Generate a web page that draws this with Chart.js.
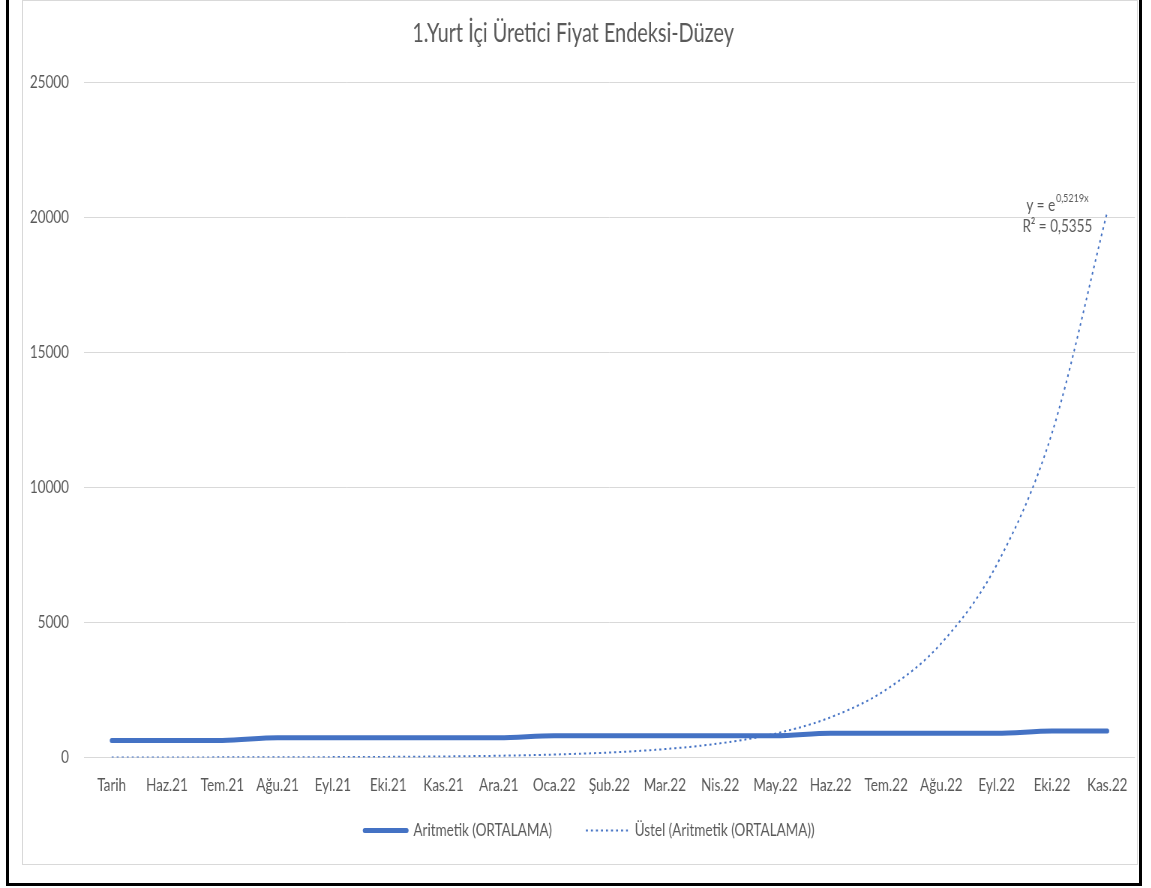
<!DOCTYPE html>
<html lang="tr">
<head>
<meta charset="utf-8">
<title>1.Yurt İçi Üretici Fiyat Endeksi-Düzey</title>
<script src="https://cdn.jsdelivr.net/npm/chart.js@4/dist/chart.umd.min.js"></script>
<style>
  html, body { margin: 0; padding: 0; background: #ffffff; overflow: hidden; }
  body { width: 1151px; height: 888px; position: relative; }
  /* the chart is drawn on a wider canvas and squeezed horizontally,
     which gives the tall, narrow lettering of the original sheet */
  #wrap {
    position: absolute; left: 0; top: 0;
    width: 1535px; height: 888px;
    transform: scaleX(0.75); transform-origin: 0 0;
  }
  #outer {
    position: absolute; left: 6px; top: -3px; width: 1136px; height: 889px;
    border: 3px solid #000; box-sizing: border-box; pointer-events: none;
  }
  #inner {
    position: absolute; left: 22px; top: 0; width: 1116px; height: 865px;
    border: 1px solid #d9d9d9; box-sizing: border-box; pointer-events: none;
  }
</style>
</head>
<body>
<div id="wrap"><canvas id="chart"></canvas></div>
<div id="inner"></div>
<div id="outer"></div>
<script>
// Months on the category axis
const categories = ['Tarih', 'Haz.21', 'Tem.21', 'Ağu.21', 'Eyl.21', 'Eki.21', 'Kas.21', 'Ara.21',
  'Oca.22', 'Şub.22', 'Mar.22', 'Nis.22', 'May.22', 'Haz.22', 'Tem.22', 'Ağu.22', 'Eyl.22',
  'Eki.22', 'Kas.22'];

// Arithmetic mean of the index level
const aritmetikValues = [630, 630, 630, 733, 733, 733, 733, 733, 806, 806, 806, 806, 806,
  895, 895, 895, 895, 980, 980];

// Exponential trend of the mean (y = e^0,5219x)
const ustelTrendValues = [2, 3, 5, 8, 14, 23, 39, 65, 110, 185, 311, 525, 884, 1490,
  2510, 4230, 7130, 12010, 20200];

// Value axis ticks
const yTickMin = 0;
const yTickMax = 25000;
const yTickStep = 5000;

const trendEquation = { base: 'y = e', exponent: '0,5219x', r2: 'R² = 0,5355' };

const BLUE = '#4472C4';
const TEXT = '#595959';
const GRID = '#d9d9d9';
const FONT = 'Lato';

// Places the legend row: a little right of the title's centre line and
// closer to the category labels than the wide item spacing would put it
const legendShift = {
  id: 'legendShift',
  afterLayout(chart) {
    const lg = chart.legend;
    if (lg) {
      lg.left += 22;
      lg.right += 22;
      lg.top -= 26;
      lg.bottom -= 26;
    }
  }
};

// Trend equation and R² written beside the end of the trend curve
const trendLabel = {
  id: 'trendLabel',
  afterDatasetsDraw(chart) {
    const { ctx, scales: { x, y } } = chart;
    const last = ustelTrendValues.length - 1;
    const px = x.getPixelForValue(last);
    const py = y.getPixelForValue(ustelTrendValues[last]);
    ctx.save();
    ctx.fillStyle = TEXT;
    ctx.textAlign = 'right';
    ctx.textBaseline = 'alphabetic';
    ctx.font = '18px ' + FONT;
    ctx.fillText(trendEquation.r2, px - 20, py + 20);
    ctx.font = '12px ' + FONT;
    ctx.fillText(trendEquation.exponent, px - 25, py - 10);
    const supW = ctx.measureText(trendEquation.exponent).width;
    ctx.font = '18px ' + FONT;
    ctx.fillText(trendEquation.base, px - 25 - supW - 1, py - 1);
    ctx.restore();
  }
};

// Legend samples take the line width and dash of their dataset
function legendLabels(chart) {
  const items = Chart.defaults.plugins.legend.labels.generateLabels(chart);
  items.forEach(item => {
    const ds = chart.data.datasets[item.datasetIndex];
    item.lineWidth = ds.borderWidth;
    item.lineDash = ds.borderDash || [];
    item.lineCap = ds.borderCapStyle || 'butt';
    item.strokeStyle = ds.borderColor;
  });
  return items;
}

new Chart(document.getElementById('chart'), {
  type: 'line',
  data: {
    labels: categories,
    datasets: [
      {
        label: 'Aritmetik (ORTALAMA)',
        data: aritmetikValues,
        borderColor: BLUE,
        backgroundColor: BLUE,
        borderWidth: 5,
        borderCapStyle: 'round',
        borderJoinStyle: 'round',
        cubicInterpolationMode: 'monotone',
        pointRadius: 0,
        fill: false
      },
      {
        label: 'Üstel (Aritmetik (ORTALAMA))',
        data: ustelTrendValues,
        borderColor: BLUE,
        backgroundColor: BLUE,
        borderWidth: 2,
        borderDash: [2.7, 4],
        cubicInterpolationMode: 'monotone',
        pointRadius: 0,
        fill: false
      }
    ]
  },
  options: {
    responsive: true,
    maintainAspectRatio: false,
    animation: false,
    layout: { padding: { left: 15, right: 21.7, top: 0, bottom: 12.5 } },
    plugins: {
      title: {
        display: true,
        text: '1.Yurt İçi Üretici Fiyat Endeksi-Düzey',
        color: TEXT,
        font: { family: FONT, size: 26.5, weight: 'normal', lineHeight: 1.2 },
        padding: { top: 18, bottom: 32.2 }
      },
      legend: {
        position: 'bottom',
        labels: {
          color: TEXT,
          font: { family: FONT, size: 18 },
          usePointStyle: true,
          pointStyle: 'line',
          pointStyleWidth: 56,
          padding: 45,
          generateLabels: legendLabels
        }
      },
      tooltip: { enabled: false }
    },
    scales: {
      x: {
        offset: true,
        grid: { display: false, drawTicks: false },
        border: { display: false },
        ticks: {
          color: TEXT,
          font: { family: FONT, size: 18 },
          autoSkip: false,
          maxRotation: 0,
          padding: 17
        },
        afterFit(scale) { scale.height = 45; }
      },
      y: {
        min: yTickMin,
        max: yTickMax,
        grid: { color: GRID, lineWidth: 1, drawTicks: false },
        border: { display: false },
        ticks: {
          stepSize: yTickStep,
          color: TEXT,
          font: { family: FONT, size: 18 },
          padding: 20,
          callback: value => String(value)
        },
        afterFit(scale) { scale.width = 97; }
      }
    }
  },
  plugins: [legendShift, trendLabel]
});
</script>
</body>
</html>
